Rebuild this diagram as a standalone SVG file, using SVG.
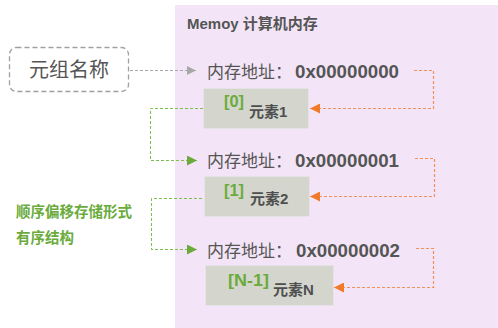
<svg xmlns="http://www.w3.org/2000/svg" width="498" height="328" viewBox="0 0 498 328">
  <style>
    .cjk { font-family: "Liberation Sans", "Noto Sans CJK SC", sans-serif; }
    .title { font-size: 15px; font-weight: bold; fill: #555555; }
    .addr { font-size: 17px; fill: #555555; }
    .hex { font-size: 18px; font-weight: bold; fill: #555555; }
    .cell { fill: #d4d6cd; stroke: #e6e2e8; stroke-width: 1; }
    .idx { font-size: 17px; font-weight: bold; fill: #6aab3c; }
    .val { font-size: 15px; font-weight: bold; fill: #4f4f4f; }
    .note { font-size: 14.5px; font-weight: bold; fill: #6aab3c; }
    .link-gray { fill: none; stroke: #a8a8a8; stroke-width: 1; stroke-dasharray: 3 2; }
    .link-green { fill: none; stroke: #7cbf4c; stroke-width: 1; stroke-dasharray: 3 2; }
    .link-orange { fill: none; stroke: #f0915a; stroke-width: 1.2; stroke-dasharray: 3 2; }
  </style>
  <defs>
    <marker id="arrow-gray" viewBox="0 0 10 10" refX="10" refY="5" markerWidth="9" markerHeight="9" markerUnits="userSpaceOnUse" orient="auto">
      <path d="M0,0 L10,5 L0,10 Z" fill="#a8a8a8"/>
    </marker>
    <marker id="arrow-green" viewBox="0 0 10 10" refX="10" refY="5" markerWidth="10" markerHeight="10" markerUnits="userSpaceOnUse" orient="auto">
      <path d="M0,0 L10,5 L0,10 Z" fill="#6aab3c"/>
    </marker>
    <marker id="arrow-orange" viewBox="0 0 10 10" refX="10" refY="5" markerWidth="10" markerHeight="10" markerUnits="userSpaceOnUse" orient="auto">
      <path d="M0,0 L10,5 L0,10 Z" fill="#f07a2a"/>
    </marker>
  </defs>

  <rect x="0" y="0" width="498" height="328" fill="#ffffff"/>

  <!-- memory region -->
  <g id="memory">
    <rect x="175" y="5" width="323" height="323" fill="#f3e5f7"/>
    <text class="cjk title" x="187" y="29">Memoy 计算机内存</text>
  </g>

  <!-- tuple name -->
  <g id="tuple-name">
    <rect x="9.5" y="47.5" width="119" height="44" rx="7" fill="#ffffff" stroke="#a0a0a0" stroke-width="1.3" stroke-dasharray="5 3"/>
    <text class="cjk" x="69" y="77" font-size="20" fill="#555555" text-anchor="middle">元组名称</text>
  </g>

  <!-- side note -->
  <g id="note">
    <text class="cjk note" x="16" y="217">顺序偏移存储形式</text>
    <text class="cjk note" x="16" y="243">有序结构</text>
  </g>

  <!-- addresses -->
  <g id="addr-0">
    <text class="cjk addr" x="207" y="78">内存地址：</text>
    <text class="cjk hex" x="295" y="78" textLength="104" lengthAdjust="spacingAndGlyphs">0x00000000</text>
  </g>
  <g id="addr-1">
    <text class="cjk addr" x="207" y="167">内存地址：</text>
    <text class="cjk hex" x="295" y="167" textLength="104" lengthAdjust="spacingAndGlyphs">0x00000001</text>
  </g>
  <g id="addr-2">
    <text class="cjk addr" x="207" y="257">内存地址：</text>
    <text class="cjk hex" x="296" y="257" textLength="104" lengthAdjust="spacingAndGlyphs">0x00000002</text>
  </g>

  <!-- elements -->
  <g id="elem-0">
    <rect class="cell" x="203.5" y="88.5" width="105" height="40"/>
    <text class="cjk idx" x="224" y="107" textLength="20" lengthAdjust="spacingAndGlyphs">[0]</text>
    <text class="cjk val" x="249" y="117">元素1</text>
  </g>
  <g id="elem-1">
    <rect class="cell" x="204.5" y="176.5" width="105" height="40"/>
    <text class="cjk idx" x="224" y="196" textLength="20" lengthAdjust="spacingAndGlyphs">[1]</text>
    <text class="cjk val" x="250" y="204">元素2</text>
  </g>
  <g id="elem-n">
    <rect class="cell" x="205.5" y="265.5" width="128" height="40"/>
    <text class="cjk idx" x="228" y="286" textLength="41" lengthAdjust="spacingAndGlyphs">[N-1]</text>
    <text class="cjk val" x="273" y="295">元素N</text>
  </g>

  <!-- connectors -->
  <g id="connectors">
    <path class="link-gray" d="M130,70.5 H196" marker-end="url(#arrow-gray)"/>

    <path class="link-orange" d="M414,70.5 H433.5 V108.5 H310" marker-end="url(#arrow-orange)"/>
    <path class="link-orange" d="M415,158.5 H434.5 V196.5 H310" marker-end="url(#arrow-orange)"/>
    <path class="link-orange" d="M416,248.5 H433.5 V287.5 H334" marker-end="url(#arrow-orange)"/>

    <path class="link-green" d="M203,108.5 H150.5 V160.5 H197" marker-end="url(#arrow-green)"/>
    <path class="link-green" d="M202,198.5 H151.5 V249.5 H197" marker-end="url(#arrow-green)"/>
  </g>
</svg>
